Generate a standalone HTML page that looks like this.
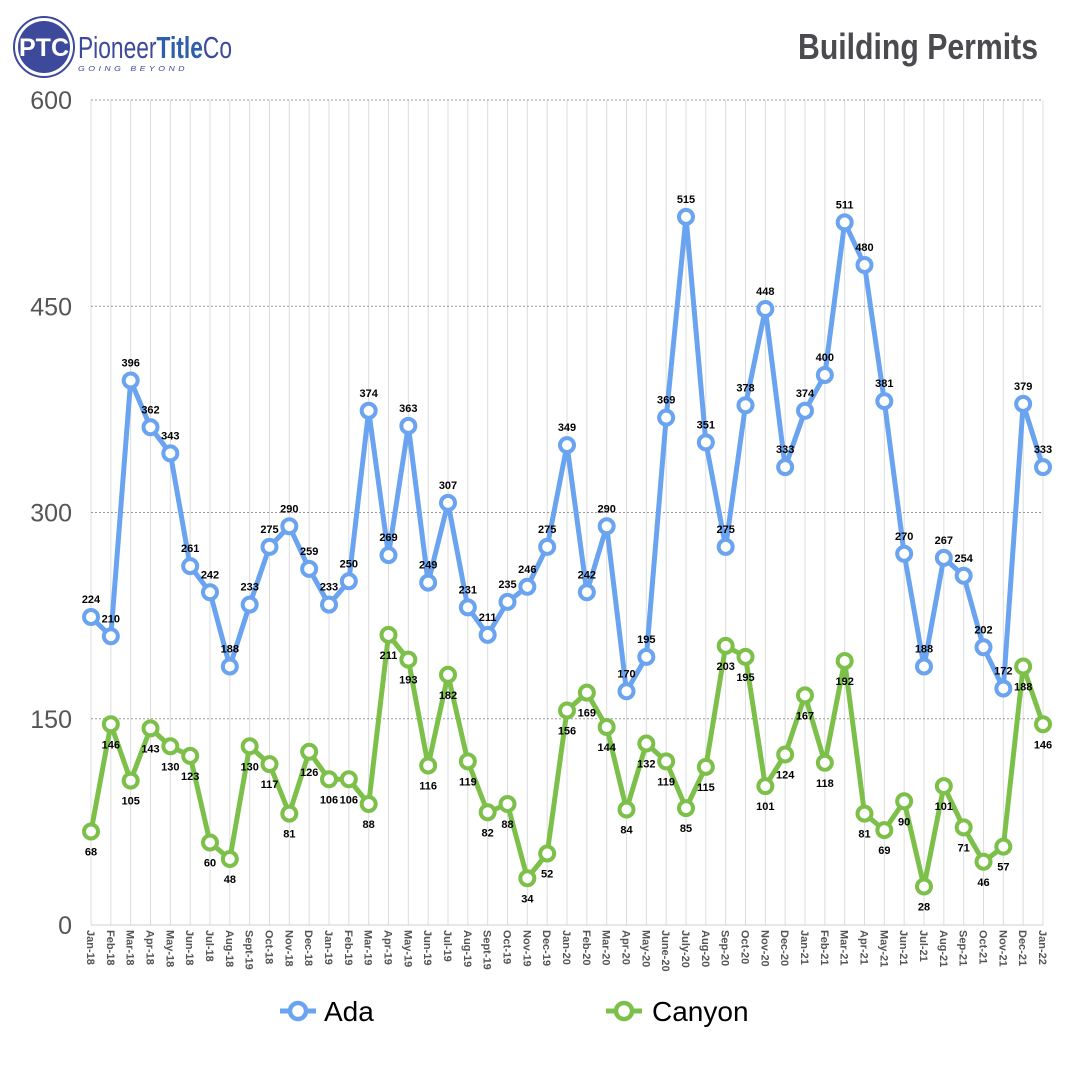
<!DOCTYPE html>
<html><head><meta charset="utf-8"><style>
body{margin:0;background:#fff;}
svg{display:block;font-family:"Liberation Sans",Arial,sans-serif;}
</style></head><body>
<svg id="chart" width="1080" height="1080" viewBox="0 0 1080 1080">
<g>
<circle cx="44" cy="47" r="30" fill="#fff" stroke="#3d4a9c" stroke-width="2"/>
<circle cx="44" cy="47" r="26" fill="#3d4a9c"/>
<text x="19" y="56" font-size="25" font-weight="bold" fill="#fff" textLength="50" lengthAdjust="spacingAndGlyphs">PTC</text>
<text x="78" y="58" font-size="31" fill="#3d4a9c" textLength="154" lengthAdjust="spacingAndGlyphs">Pioneer<tspan font-weight="bold" fill="#2f5fa8">Title</tspan>Co</text>
<text x="78" y="71" font-size="7.5" letter-spacing="3" font-style="italic" fill="#3d4a9c" textLength="110" lengthAdjust="spacingAndGlyphs">GOING BEYOND</text>
</g>
<text x="798" y="59" font-size="36" font-weight="bold" fill="#4a4a4f" textLength="240" lengthAdjust="spacingAndGlyphs">Building Permits</text>
<g id="grid"></g><g id="axes"></g><g id="series"></g>
<g>
<g>
<line x1="280" y1="1011" x2="316" y2="1011" stroke="#6aa3ef" stroke-width="5"/>
<circle cx="298" cy="1011" r="8" fill="#fff" stroke="#6aa3ef" stroke-width="4.5"/>
<text x="324" y="1021" font-size="28" fill="#000">Ada</text></g>
<g>
<line x1="606" y1="1011" x2="642" y2="1011" stroke="#7cc04a" stroke-width="5"/>
<circle cx="624" cy="1011" r="8" fill="#fff" stroke="#7cc04a" stroke-width="4.5"/>
<text x="652" y="1021" font-size="28" fill="#000">Canyon</text></g>
</g>
</svg>
<script>
const months=["Jan-18","Feb-18","Mar-18","Apr-18","May-18","Jun-18","Jul-18","Aug-18","Sept-19","Oct-18","Nov-18","Dec-18","Jan-19","Feb-19","Mar-19","Apr-19","May-19","Jun-19","Jul-19","Aug-19","Sept-19","Oct-19","Nov-19","Dec-19","Jan-20","Feb-20","Mar-20","Apr-20","May-20","June-20","July-20","Aug-20","Sep-20","Oct-20","Nov-20","Dec-20","Jan-21","Feb-21","Mar-21","Apr-21","May-21","Jun-21","Jul-21","Aug-21","Sep-21","Oct-21","Nov-21","Dec-21","Jan-22"];
const ada=[224,210,396,362,343,261,242,188,233,275,290,259,233,250,374,269,363,249,307,231,211,235,246,275,349,242,290,170,195,369,515,351,275,378,448,333,374,400,511,480,381,270,188,267,254,202,172,379,333];
const canyon=[68,146,105,143,130,123,60,48,130,117,81,126,106,106,88,211,193,116,182,119,82,88,34,52,156,169,144,84,132,119,85,115,203,195,101,124,167,118,192,81,69,90,28,101,71,46,57,188,146];
const yTicks=[0,150,300,450,600];
const NS="http://www.w3.org/2000/svg";
const X0=91,X1=1043,Y0=925,Y1=100,YMAX=600;
const xs=i=>X0+i*(X1-X0)/(months.length-1);
const ys=v=>Y0-v/YMAX*(Y0-Y1);
function mk(tag,attrs,parent){const e=document.createElementNS(NS,tag);for(const k in attrs)e.setAttribute(k,attrs[k]);parent.appendChild(e);return e;}
const grid=document.getElementById('grid'),axes=document.getElementById('axes'),ser=document.getElementById('series');
months.forEach((m,i)=>{
  const l=mk('line',{x1:xs(i),x2:xs(i),y1:Y1,y2:Y0,stroke:'#dcdcdc','stroke-width':1},grid);
  
  
  const t=mk('text',{transform:`translate(${xs(i)-4},930) rotate(90)`,'font-size':11,'font-weight':'bold',fill:'#555'},axes);
  t.textContent=m;
  
  
});
yTicks.forEach(v=>{
  const l=mk('line',{x1:X0,x2:X1,y1:ys(v),y2:ys(v),stroke:v===0?'#cfcfcf':'#999','stroke-width':1,'stroke-dasharray':v===0?'':'2,2'},grid);
  
  
  const t=mk('text',{x:72,y:ys(v)+9,'text-anchor':'end','font-size':25,fill:'#555'},axes);
  t.textContent=v;
  
  
});
function drawSeries(vals,color,name,above){
  const g=mk('g',{},ser);
  
  
  const p=mk('polyline',{points:vals.map((v,i)=>xs(i)+','+ys(v)).join(' '),fill:'none',stroke:color,'stroke-width':5,'stroke-linejoin':'round'},g);
  
  
  vals.forEach((v,i)=>{
    const c=mk('circle',{cx:xs(i),cy:ys(v),r:7,fill:'#fff',stroke:color,'stroke-width':4},g);
    
    
    const t=mk('text',{x:xs(i),y:above?ys(v)-14:ys(v)+24,'text-anchor':'middle','font-size':11,'font-weight':'bold',fill:'#000'},g);
    t.textContent=v;
    
    
  });
}
drawSeries(ada,'#6aa3ef','ada',true);
drawSeries(canyon,'#7cc04a','canyon',false);
</script>
</body></html>
